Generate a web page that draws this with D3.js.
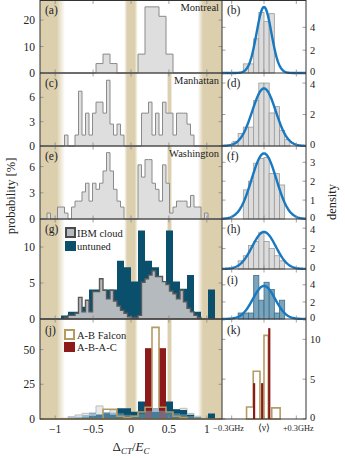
<!DOCTYPE html>
<html><head><meta charset="utf-8">
<script src="https://cdn.jsdelivr.net/npm/d3@7"></script>
<style>
body{margin:0;background:#fff;}
svg{display:block;font-family:"Liberation Serif",serif;}
</style></head><body>
<svg id="chart" width="345" height="458"></svg>
<script>
// ---- data ----
var xTicks = [-1, -0.5, 0, 0.5, 1];
var xTickLabels = ['\u22121', '\u22120.5', '0', '0.5', '1'];
// tan bands: [fadeStart, solidStart, solidEnd, fadeEnd] in Delta_CT/E_C
var bands = [[-1.3, -1.3, -0.98, -0.87], [-0.09, -0.05, 0.05, 0.09], [0.88, 0.95, 1.3, 1.3]];
var halfBand = [0.47, 0.495, 0.52, 0.545];

// 26 bins over [-1.2,1.2]
var montreal = [0,0,0,0,0,0,0,0,3.57,7.14,3.57,0,0,0,7.14,25,25,21.43,7.14,0,0,0,0,0,0,0];
// 52 bins over [-1.2,1.2]
var manhattan = [0,0,0,0,0,0,0,1.35,0,0,1.35,6.76,1.35,4.05,1.35,4.05,5.41,5.41,4.05,8.11,2.7,1.35,2.7,1.35,0,0,0,0,0,
  4.05,4.05,5.41,1.35,4.05,1.35,5.41,4.05,4.05,1.35,4.05,4.05,4.05,2.7,1.35,0,0,0,0,0,0,0,0];
var washington = [0,0,0.68,0,0,1.37,1.37,0.68,0,1.37,2.05,2.05,3.1,4.1,2.05,4.1,3.4,4.1,5.5,7.6,5.5,3.4,2.05,1.37,0,0,0,0,
  6.2,4.8,6.8,6.8,4.1,3.4,2.05,6.2,4.1,0.68,1.37,2.05,2.05,2.05,1.37,2.7,1.37,1.37,0,0.68,0,0,0,0];
var ibmCloud = [0,0,0,0,0,0,0,0.2,0.5,0.5,0.8,3.0,1.0,2.6,1.0,3.8,3.8,5.6,4.0,2.8,4.0,2.5,1.8,1.2,0.8,0.3,0.2,0.2,
  0.5,5.1,5.6,6.1,6.7,5.9,5.9,5.2,4.8,3.9,3.5,2.8,4.0,2.4,1.5,1.0,0.5,0.2,0,0,0,0,0,0];
// 26 bins
var untuned = [0,0,0,0.5,1.0,1.0,1.7,4.1,4.1,4.1,4.1,8.1,7.2,5.2,12.3,8.1,7.2,5.2,12.3,5.2,4.2,6.1,1.0,0,4.1,0];
var allIbm = [0,0,0,0.5,1.7,2.9,4.1,4.1,9.4,4.6,6.5,3.5,2,1,3,4.6,7.5,5.5,4.6,6.5,7.7,4,2,0.5,0,0];
var allUntuned = [0,0,0,0,0,0.5,1,2.2,3,4.1,3,7.7,7.7,5.3,12.6,6,5,6,12.6,7,6.5,3,1,0,4,0];
var allTuned = [0,0,0,0,1.2,1.7,2.9,4.6,3.5,4.6,4.6,4.1,3,2.5,4,6,7.7,6,4.6,4.1,3.5,2.2,1.2,0.5,0,0];
var falcon = [0,0,0,0,0,0,0,0,0,7,7,2,1,2,5,8.5,66,8.5,5,2,1,0,0,0,0,0];
var abac = [0,0,0,0,0,0,0,0,0,0,0,0,0,0,0,51,0,51,0,0,0,0,0,0,0,0];

// right column: densities vs frequency offset (GHz), bin width 0.048 GHz
var binW = 0.048;
var densB = {start: -0.192, v: [0.8,0.8,3.0,5.3,4.5,5.2]};
var densD = {start: -0.288, v: [0.3,0.8,1.2,1.2,2.9,4.0,4.0,2.1,2.5,1.0,0.4]};
var densF = {start: -0.192, v: [1.54,2.0,2.95,3.2,3.25,2.4,2.4,1.8]};
var densH = {start: -0.24, v: [0.8,1.3,2.3,2.7,3.6,2.7,2.0,1.3,0.8]};
var densI = {start: -0.24, v: [0.7,0.7,0.7,5.1,2.2,4.3,3.45,0.7,2.2]};
var fitSigma = {b: 0.069, d: 0.109, f: 0.115, h: 0.11, i: 0.103};
var falconKEdges = [-0.162,-0.1,-0.0375,0,0.04,0.072,0.15];
var falconK = [1.5,6.0,0,10.5,0,1.4];
var abacKPos = [-0.092,-0.017,0.049];
var abacK = [4.5,4.5,11.4];

// ---- layout ----
var svg = d3.select('#chart');
var xL = 40, xM = 222, xR = 306;
var x = d3.scaleLinear().domain([-1.2,1.2]).range([xL,xM]);
var xg = d3.scaleLinear().domain([-0.39,0.39]).range([xM,xR]);

var tan = '#dccfae', teal = '#0a4f6c', red = '#8c1a1a', tanLine = '#b49b64', blue = '#1878c0';

function edges(n){ return d3.range(n+1).map(function(i){ return -1.2 + i*2.4/n; }); }
function yS(top, bot, max){ return d3.scaleLinear().domain([0,max]).range([bot, top]); }

function stepPts(vals, e){
  var pts = [[e[0],0]];
  vals.forEach(function(v,i){ pts.push([e[i],v]); pts.push([e[i+1],v]); });
  pts.push([e[vals.length],0]);
  return pts;
}
function drawStep(g, vals, e, xs, y, fill, stroke, sw, op){
  var line = d3.line().x(function(d){return xs(d[0]);}).y(function(d){return y(d[1]);});
  g.append('path').attr('d', line(stepPts(vals,e)) + 'Z')
    .attr('fill', fill).attr('fill-opacity', op==null?1:op)
    .attr('stroke', stroke).attr('stroke-width', sw).attr('stroke-linejoin','miter');
}
function drawBars(g, vals, e, xs, y, fill, stroke, op){
  g.selectAll(null).data(vals).enter().append('rect')
    .attr('x', function(d,i){return xs(e[i]);})
    .attr('width', function(d,i){return xs(e[i+1])-xs(e[i]);})
    .attr('y', function(d){return y(d);})
    .attr('height', function(d){return y(0)-y(d);})
    .attr('fill', fill).attr('fill-opacity', op==null?1:op)
    .attr('stroke', stroke).attr('stroke-width', 0.8);
}

// ---- bands ----
var defs = svg.append('defs');
function band(b, id, top, bot){
  var x0 = Math.max(x(b[0]), xL), x3 = Math.min(x(b[3]), xM);
  var gr = defs.append('linearGradient').attr('id', id)
    .attr('gradientUnits','userSpaceOnUse').attr('x1', x(b[0])).attr('x2', x(b[3])).attr('y1',0).attr('y2',0);
  var span = x(b[3]) - x(b[0]);
  gr.append('stop').attr('offset', 0).attr('stop-color', tan).attr('stop-opacity', b[0]==b[1]?1:0);
  gr.append('stop').attr('offset', (x(b[1])-x(b[0]))/span).attr('stop-color', tan).attr('stop-opacity', 1);
  gr.append('stop').attr('offset', (x(b[2])-x(b[0]))/span).attr('stop-color', tan).attr('stop-opacity', 1);
  gr.append('stop').attr('offset', 1).attr('stop-color', tan).attr('stop-opacity', b[2]==b[3]?1:0);
  svg.append('rect').attr('x', x0).attr('width', x3-x0).attr('y', top).attr('height', bot-top)
    .attr('fill', 'url(#'+id+')');
}
bands.forEach(function(b,i){ band(b, 'band'+i, 0, 419); });
band(halfBand, 'bandHalf', 73, 419);

var plot = svg.append('g');

// ---- left panels ----
var rowA = [0.5,73], rowC = [73,146], rowE = [146,219], rowG = [219,319], rowJ = [319,419];
var yA = yS(rowA[0], rowA[1], 27.4), yC = yS(rowC[0], rowC[1], 9), yE = yS(rowE[0], rowE[1], 8.36),
    yG = yS(rowG[0], rowG[1], 13.9), yJ = yS(rowJ[0], rowJ[1], 72);

drawStep(plot, montreal, edges(26), x, yA, '#dedede', '#8a8a8a', 1);
drawStep(plot, manhattan, edges(52), x, yC, '#dedede', '#8a8a8a', 1);
drawStep(plot, washington, edges(52), x, yE, '#dedede', '#8a8a8a', 1);
drawStep(plot, untuned, edges(26), x, yG, teal, 'none', 0);
drawStep(plot, ibmCloud, edges(52), x, yG, '#b5babe', '#5a5a5a', 1.4);

// (j): everything together
drawStep(plot, allIbm, edges(26), x, yJ, '#e4e4e4', '#bcbcbc', 1, 0.8);
drawStep(plot, allUntuned, edges(26), x, yJ, teal, 'none', 0);
drawBars(plot, abac, edges(26), x, yJ, red, 'none');
drawStep(plot, allTuned, edges(26), x, yJ, '#6e9cb8', 'none', 0, 0.6);
drawStep(plot, falcon, edges(26), x, yJ, 'none', tanLine, 1.6);

// ---- right panels ----
var rB=[0.5,73], rD=[73,146], rF=[146,219], rH=[219,269], rI=[269,319], rK=[319,419];
var yB = yS(rB[0],rB[1],6.35), yD = yS(rD[0],rD[1],4.64), yF = yS(rF[0],rF[1],3.86),
    yH = yS(rH[0],rH[1],4.9), yI = yS(rI[0],rI[1],5.85), yK = yS(rK[0],rK[1],12.55);
function dEdges(d){ return d3.range(d.v.length+1).map(function(i){ return d.start + i*binW; }); }
drawBars(plot, densB.v, dEdges(densB), xg, yB, '#dcdcdc', '#9a9a9a');
drawBars(plot, densD.v, dEdges(densD), xg, yD, '#dcdcdc', '#9a9a9a');
drawBars(plot, densF.v, dEdges(densF), xg, yF, '#dcdcdc', '#9a9a9a');
drawBars(plot, densH.v, dEdges(densH), xg, yH, '#dcdcdc', '#9a9a9a');
drawBars(plot, densI.v, dEdges(densI), xg, yI, '#6b9ab5', '#3f6f8a', 0.9);

function gauss(y, s){
  var pts = d3.range(0, 121).map(function(i){
    var v = -0.39 + i*0.78/120;
    return [v, Math.exp(-v*v/(2*s*s))/(s*Math.sqrt(2*Math.PI))];
  });
  plot.append('path').attr('d', d3.line().x(function(d){return xg(d[0]);}).y(function(d){return y(d[1]);})(pts))
    .attr('fill','none').attr('stroke', blue).attr('stroke-width', 2.4);
}
gauss(yB, fitSigma.b); gauss(yD, fitSigma.d); gauss(yF, fitSigma.f); gauss(yH, fitSigma.h); gauss(yI, fitSigma.i);

drawStep(plot, falconK, falconKEdges, xg, yK, 'none', tanLine, 1.6);
plot.selectAll(null).data(abacK).enter().append('rect')
  .attr('x', function(d,i){ return xg(abacKPos[i]) - 1.1; }).attr('width', 2.2)
  .attr('y', function(d){ return yK(d); }).attr('height', function(d){ return yK(0)-yK(d); })
  .attr('fill', red);

// ---- ticks & frames ----
var ax = svg.append('g');
var tickCol = '#8a8a8a';
function xTicksIn(xs, vals, top, bot){
  vals.forEach(function(v){
    ax.append('line').attr('x1',xs(v)).attr('x2',xs(v)).attr('y1',top).attr('y2',top+3.5).attr('stroke',tickCol).attr('stroke-width',0.8);
    ax.append('line').attr('x1',xs(v)).attr('x2',xs(v)).attr('y1',bot).attr('y2',bot-3.5).attr('stroke',tickCol).attr('stroke-width',0.8);
  });
}
function yTicks(y, vals, x0, x1, side){
  var top = y.range()[1];
  vals.forEach(function(v){
    ax.append('line').attr('x1',x0).attr('x2',x0+3.5).attr('y1',y(v)).attr('y2',y(v)).attr('stroke',tickCol).attr('stroke-width',0.8);
    ax.append('line').attr('x1',x1).attr('x2',x1-3.5).attr('y1',y(v)).attr('y2',y(v)).attr('stroke',tickCol).attr('stroke-width',0.8);
    var t = ax.append('text').attr('fill','#222').text(v);
    if(side=='left') t.attr('x', x0-5).attr('y', y(v)+4).attr('text-anchor','end').attr('font-size', 11.5);
    else {
      var dy = 3.6;
      if(v==0) dy = 2;                       // keep clear of the label below
      else if(y(v)-top < 11) dy = 5;         // keep clear of the label above
      t.attr('x', x1+4).attr('y', y(v)+dy).attr('text-anchor','start').attr('font-size', 10.5);
    }
  });
}
[rowA,rowC,rowE,rowG,rowJ].forEach(function(r){ xTicksIn(x, xTicks, r[0], r[1]); });
[rB,rD,rF,rH,rI,rK].forEach(function(r){ xTicksIn(xg, [-0.3,0,0.3], r[0], r[1]); });
yTicks(yA,[0,10,20],xL,xM,'left'); yTicks(yC,[0,3,6],xL,xM,'left'); yTicks(yE,[0,3,6],xL,xM,'left');
yTicks(yG,[0,5,10],xL,xM,'left'); yTicks(yJ,[0,25,50],xL,xM,'left');
yTicks(yB,[0,2,4],xM,xR,'right'); yTicks(yD,[0,2,4],xM,xR,'right'); yTicks(yF,[0,1,2,3],xM,xR,'right');
yTicks(yH,[0,2,4],xM,xR,'right'); yTicks(yI,[0,2,4],xM,xR,'right'); yTicks(yK,[0,5,10],xM,xR,'right');

var frame = '#333';
ax.append('rect').attr('x',xL).attr('y',0.5).attr('width',xR-xL).attr('height',418.5)
  .attr('fill','none').attr('stroke',frame).attr('stroke-width',1);
ax.append('line').attr('x1',xM).attr('x2',xM).attr('y1',0.5).attr('y2',419).attr('stroke',frame);
[73,146,219,319].forEach(function(yy){
  ax.append('line').attr('x1',xL).attr('x2',xR).attr('y1',yy).attr('y2',yy).attr('stroke',frame);
});
ax.append('line').attr('x1',xM).attr('x2',xR).attr('y1',269).attr('y2',269).attr('stroke',frame);

// x tick labels
xTicks.forEach(function(v,i){
  ax.append('text').attr('x', x(v)).attr('y', 433).attr('text-anchor','middle')
    .attr('font-size',11.5).attr('fill','#222').text(xTickLabels[i]);
});
[['\u22120.3GHz',-0.3],['\u27E8\u03BD\u27E9',0],['+0.3GHz',0.3]].forEach(function(d){
  ax.append('text').attr('x', xg(d[1]) + (d[1]<0?-3:(d[1]>0?2:0))).attr('y', 431).attr('text-anchor','middle')
    .attr('font-size', d[1]==0?9.5:8.3).attr('fill','#222').text(d[0]);
});

// axis titles
var xt = ax.append('text').attr('x', 131).attr('y', 451).attr('text-anchor','middle').attr('font-size',13).attr('fill','#222');
xt.append('tspan').text('\u0394');
xt.append('tspan').attr('font-style','italic').attr('font-size',9).attr('dy',2.5).text('CT');
xt.append('tspan').attr('dy',-2.5).text('/');
xt.append('tspan').attr('font-style','italic').text('E');
xt.append('tspan').attr('font-style','italic').attr('font-size',9).attr('dy',2.5).text('C');
ax.append('text').attr('transform','translate(15,196) rotate(-90)').attr('text-anchor','middle')
  .attr('font-size',12.5).attr('fill','#222').text('probability [%]');
ax.append('text').attr('transform','translate(336,202) rotate(-90)').attr('text-anchor','middle')
  .attr('font-size',12.5).attr('fill','#222').text('density');

// panel letters and device names
var letters = [['(a)',45,14],['(c)',45,87],['(e)',45,160],['(g)',45,233],['(j)',45,334],
  ['(b)',227,14],['(d)',227,87],['(f)',227,160],['(h)',227,233],['(i)',227,284],['(k)',227,334]];
letters.forEach(function(d){
  ax.append('text').attr('x',d[1]).attr('y',d[2]).attr('font-size',11.5).attr('fill','#222').text(d[0]);
});
[['Montreal',11],['Manhattan',84],['Washington',157]].forEach(function(d){
  ax.append('text').attr('x',219).attr('y',d[1]).attr('text-anchor','end').attr('font-size',10.5).attr('fill','#222').text(d[0]);
});

// legends
ax.append('rect').attr('x',66).attr('y',228).attr('width',9).attr('height',9).attr('fill','#b5babe').attr('stroke','#4a4a4a').attr('stroke-width',2);
ax.append('text').attr('x',77).attr('y',237).attr('font-size',10.5).attr('fill','#222').text('IBM cloud');
ax.append('rect').attr('x',65).attr('y',241).attr('width',11).attr('height',10).attr('fill',teal);
ax.append('text').attr('x',77).attr('y',250).attr('font-size',10.5).attr('fill','#222').text('untuned');
ax.append('rect').attr('x',65).attr('y',330).attr('width',9).attr('height',9).attr('fill','#fff').attr('stroke',tanLine).attr('stroke-width',2);
ax.append('text').attr('x',77).attr('y',339).attr('font-size',10.5).attr('fill','#222').text('A-B Falcon');
ax.append('rect').attr('x',64).attr('y',342).attr('width',11).attr('height',10).attr('fill',red);
ax.append('text').attr('x',77).attr('y',351).attr('font-size',10.5).attr('fill','#222').text('A-B-A-C');
</script></body></html>
